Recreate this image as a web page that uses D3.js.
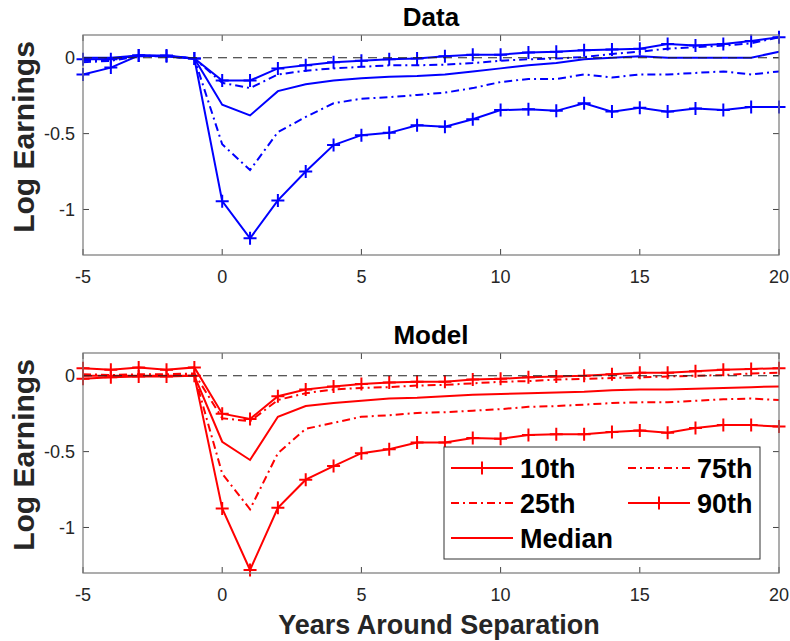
<!DOCTYPE html>
<html>
<head>
<meta charset="utf-8">
<script src="https://cdn.jsdelivr.net/npm/d3@7"></script>
<style>
  body { margin: 0; background: #fff; }
  svg { display: block; font-family: "Liberation Sans", Arial, sans-serif; }
</style>
</head>
<body>
<div id="chart"></div>
<script>
// years relative to separation
const years = [-5, -4, -3, -2, -1, 0, 1, 2, 3, 4, 5, 6, 7, 8, 9, 10, 11, 12, 13, 14, 15, 16, 17, 18, 19, 20]

// Data panel percentiles
const dataP10 = [-0.11, -0.065, 0.015, 0.01, -0.005, -0.945, -1.19, -0.94, -0.75, -0.575, -0.51, -0.495, -0.445, -0.455, -0.405, -0.345, -0.34, -0.35, -0.3, -0.355, -0.33, -0.355, -0.335, -0.345, -0.325, -0.325]
const dataP25 = [-0.03, -0.02, 0.01, 0.01, -0.005, -0.57, -0.74, -0.49, -0.39, -0.3, -0.27, -0.26, -0.245, -0.23, -0.2, -0.16, -0.14, -0.14, -0.11, -0.13, -0.11, -0.11, -0.1, -0.09, -0.11, -0.09]
const dataMedian = [0, 0, 0.015, 0.01, -0.005, -0.31, -0.38, -0.22, -0.175, -0.15, -0.135, -0.125, -0.12, -0.11, -0.09, -0.07, -0.05, -0.035, -0.01, 0, 0.01, 0, 0, 0, 0, 0.04]
const dataP75 = [-0.02, -0.015, 0.015, 0.01, -0.005, -0.165, -0.2, -0.11, -0.085, -0.07, -0.06, -0.05, -0.05, -0.045, -0.035, -0.02, -0.01, -0.005, 0.005, 0.025, 0.04, 0.06, 0.07, 0.08, 0.095, 0.135]
const dataP90 = [-0.01, -0.01, 0.015, 0.015, -0.005, -0.15, -0.15, -0.07, -0.05, -0.03, -0.02, -0.01, -0.005, 0.01, 0.02, 0.02, 0.035, 0.04, 0.05, 0.055, 0.06, 0.09, 0.08, 0.09, 0.11, 0.135]

// Model panel percentiles
const modelP10 = [-0.02, -0.01, -0.005, -0.005, 0, -0.875, -1.28, -0.87, -0.685, -0.595, -0.51, -0.485, -0.44, -0.44, -0.41, -0.415, -0.39, -0.385, -0.385, -0.37, -0.36, -0.375, -0.345, -0.325, -0.325, -0.335]
const modelP25 = [0.005, 0.005, 0.005, 0.005, 0.005, -0.645, -0.88, -0.51, -0.35, -0.31, -0.27, -0.26, -0.245, -0.24, -0.23, -0.22, -0.205, -0.2, -0.19, -0.18, -0.175, -0.175, -0.165, -0.155, -0.15, -0.16]
const modelMedian = [0, 0, 0, 0, 0, -0.435, -0.555, -0.27, -0.2, -0.18, -0.165, -0.15, -0.145, -0.135, -0.125, -0.12, -0.115, -0.11, -0.105, -0.095, -0.09, -0.09, -0.085, -0.08, -0.075, -0.07]
const modelP75 = [0.01, 0.005, 0.01, 0.01, 0.015, -0.28, -0.3, -0.16, -0.115, -0.09, -0.08, -0.075, -0.065, -0.06, -0.05, -0.04, -0.035, -0.025, -0.02, -0.015, -0.01, -0.005, 0, 0.005, 0.015, 0.02]
const modelP90 = [0.05, 0.04, 0.055, 0.04, 0.055, -0.25, -0.285, -0.135, -0.09, -0.07, -0.055, -0.045, -0.04, -0.04, -0.025, -0.02, -0.01, -0.005, 0, 0.01, 0.02, 0.02, 0.03, 0.04, 0.045, 0.05]

const seriesNames = ["10th", "25th", "Median", "75th", "90th"]
const xTicks = [-5, 0, 5, 10, 15, 20]
const yTicks = [0, -0.5, -1]
const yTickLabels = ["0", "-0.5", "-1"]

const width = 790, height = 641
const left = 83, right = 779

const styles = {
  "10th": { dash: null, marker: true },
  "25th": { dash: "8,4,2,4", marker: false },
  "Median": { dash: null, marker: false },
  "75th": { dash: "8,4,2,4", marker: false },
  "90th": { dash: null, marker: true }
}

const svg = d3.select("#chart").append("svg")
  .attr("width", width)
  .attr("height", height)

const x = d3.scaleLinear().domain([-5, 20]).range([left, right])

function plus(g, cx, cy, color) {
  let s = 6.5
  g.append("path")
    .attr("d", `M${cx - s},${cy}H${cx + s}M${cx},${cy - s}V${cy + s}`)
    .attr("stroke", color)
    .attr("stroke-width", 2)
}

function drawPanel(top, title, color, series) {
  let bottom = top + 220
  let y = d3.scaleLinear().domain([-1.3, 0.15]).range([bottom, top])
  let g = svg.append("g")

  // ticks, mirrored on all four sides
  let tickColor = "#444"
  xTicks.forEach(function(t) {
    g.append("line").attr("x1", x(t)).attr("x2", x(t)).attr("y1", bottom).attr("y2", bottom - 6)
      .attr("stroke", tickColor)
    g.append("line").attr("x1", x(t)).attr("x2", x(t)).attr("y1", top).attr("y2", top + 6)
      .attr("stroke", tickColor)
    g.append("text").attr("x", x(t)).attr("y", bottom + 28)
      .attr("text-anchor", "middle").attr("font-size", 18).attr("fill", "#262626")
      .text(t)
  })
  yTicks.forEach(function(t, i) {
    g.append("line").attr("x1", left).attr("x2", left + 6).attr("y1", y(t)).attr("y2", y(t))
      .attr("stroke", tickColor)
    g.append("line").attr("x1", right).attr("x2", right - 6).attr("y1", y(t)).attr("y2", y(t))
      .attr("stroke", tickColor)
    g.append("text").attr("x", left - 8).attr("y", y(t) + 6.5)
      .attr("text-anchor", "end").attr("font-size", 18).attr("fill", "#262626")
      .text(yTickLabels[i])
  })

  let line = d3.line()
    .x(function(d, i) { return x(years[i]) })
    .y(function(d) { return y(d) })

  seriesNames.forEach(function(name, k) {
    let st = styles[name]
    g.append("path")
      .datum(series[k])
      .attr("d", line)
      .attr("fill", "none")
      .attr("stroke", color)
      .attr("stroke-width", 2)
      .attr("stroke-dasharray", st.dash)
    if (st.marker) {
      series[k].forEach(function(v, i) { plus(g, x(years[i]), y(v), color) })
    }
  })

  // zero reference line
  g.append("line")
    .attr("x1", left).attr("x2", right).attr("y1", y(0)).attr("y2", y(0))
    .attr("stroke", "#222").attr("stroke-width", 1.2).attr("stroke-dasharray", "9,6")

  // axes box
  g.append("rect")
    .attr("x", left).attr("y", top).attr("width", right - left).attr("height", bottom - top)
    .attr("fill", "none").attr("stroke", "#777").attr("stroke-width", 1.2)

  g.append("text")
    .attr("x", (left + right) / 2).attr("y", top - 9)
    .attr("text-anchor", "middle").attr("font-size", 26).attr("font-weight", "bold")
    .text(title)

  g.append("text")
    .attr("transform", `translate(34,${(top + bottom) / 2 - 8}) rotate(-90)`)
    .attr("text-anchor", "middle").attr("font-size", 30).attr("font-weight", "bold")
    .attr("fill", "#262626")
    .text("Log Earnings")

  return { g: g, y: y, bottom: bottom }
}

drawPanel(35, "Data", "#0000ff", [dataP10, dataP25, dataMedian, dataP75, dataP90])
let model = drawPanel(353, "Model", "#ff0000", [modelP10, modelP25, modelMedian, modelP75, modelP90])

svg.append("text")
  .attr("x", 439).attr("y", 634)
  .attr("text-anchor", "middle").attr("font-size", 27).attr("font-weight", "bold")
  .attr("fill", "#262626")
  .text("Years Around Separation")

// legend
let lg = svg.append("g")
lg.append("rect")
  .attr("x", 444).attr("y", 447).attr("width", 316).attr("height", 112)
  .attr("fill", "#fff").attr("stroke", "#333").attr("stroke-width", 1)

let legendPos = [
  { x: 451, y: 468 }, { x: 451, y: 503 }, { x: 451, y: 538 },
  { x: 628, y: 468 }, { x: 628, y: 503 }
]
seriesNames.forEach(function(name, k) {
  let p = legendPos[k]
  let st = styles[name]
  lg.append("line")
    .attr("x1", p.x).attr("x2", p.x + 62).attr("y1", p.y).attr("y2", p.y)
    .attr("stroke", "#ff0000").attr("stroke-width", 2)
    .attr("stroke-dasharray", st.dash)
  if (st.marker) plus(lg, p.x + 31, p.y, "#ff0000")
  lg.append("text")
    .attr("x", p.x + 69).attr("y", p.y + 10)
    .attr("font-size", 27).attr("font-weight", "bold")
    .text(name)
})
</script>
</body>
</html>
